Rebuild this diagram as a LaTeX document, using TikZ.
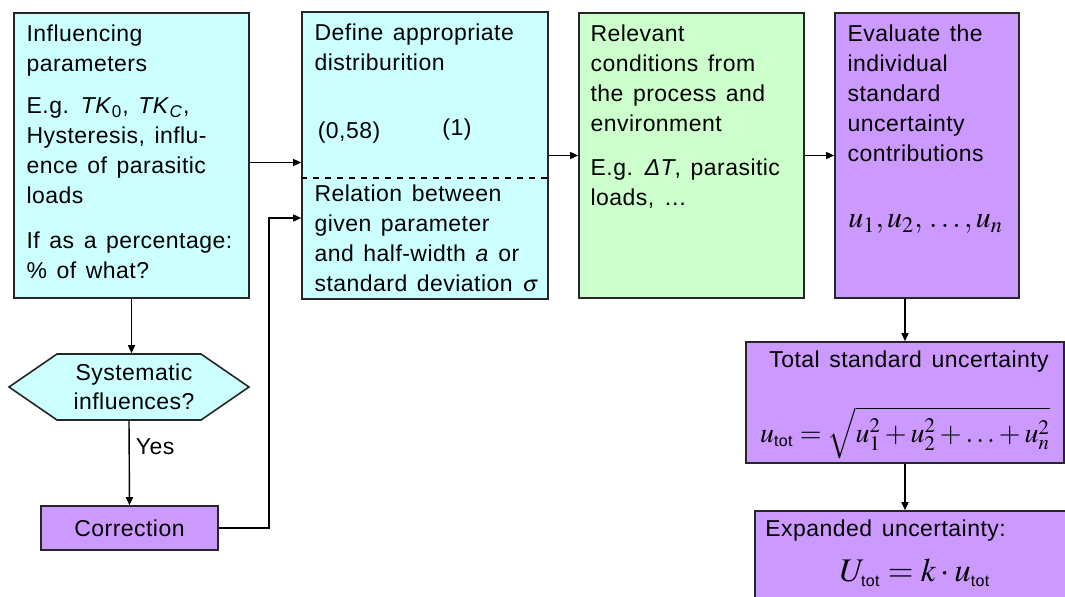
\documentclass[tikz,border=0pt]{standalone}
\usepackage{amsmath}
\usepackage{mathptmx}
\usepackage[no-math]{fontspec}
\setmainfont[LetterSpace=2, WordSpace=1.4]{Liberation Sans}
\usetikzlibrary{arrows.meta, positioning, shapes.symbols}

\definecolor{cyanfill}{RGB}{204,255,255}
\definecolor{greenfill}{RGB}{204,255,204}
\definecolor{violetfill}{RGB}{204,153,255}

\newcommand{\sub}[1]{\mbox{\fontsize{8}{8}\selectfont #1}}

\tikzset{
  box/.style={draw=black!85, line width=0.8pt, inner sep=0pt},
  txt/.style={inner sep=0pt, align=left, font=\fontsize{11.5}{15}\selectfont},
  arr/.style={-{Triangle[length=4pt,width=3.5pt]}, line width=0.7pt},
}

\begin{document}
\begin{tikzpicture}[x=0.5pt,y=-0.5pt]
\useasboundingbox (0,0) rectangle (1065,596);
\clip (0,0) rectangle (1065,596);

% boxes
\node[box, fill=cyanfill, minimum width=117.5pt, minimum height=142.5pt] (infl) at (131.5,155.5) {};
\node[box, fill=cyanfill, minimum width=123pt, minimum height=143.5pt] (distr) at (425,155.5) {};
\node[box, fill=greenfill, minimum width=112.5pt, minimum height=142.5pt] (cond) at (691.5,155.5) {};
\node[box, fill=violetfill, minimum width=92pt, minimum height=142.5pt] (eval) at (927,155.5) {};
\node[box, fill=violetfill, minimum width=159pt, minimum height=60.5pt] (total) at (905,402.5) {};
\node[box, fill=violetfill, minimum width=160pt, minimum height=54.5pt] (expd) at (915,565.5) {};
\node[box, fill=cyanfill, shape=signal, signal to=east and west, signal pointer angle=69,
      minimum width=120pt, minimum height=33pt, align=center, font=\fontsize{11.5}{14.5}\selectfont] (syst) at (129,387) {\hspace*{5pt}Systematic\\\hspace*{5pt}influences?};
\node[box, fill=violetfill, minimum width=88.5pt, minimum height=22pt, font=\fontsize{11.5}{15}\selectfont] (corr) at (129.5,528) {Correction};

% texts
\node[txt, below right=6pt and 6.5pt of infl.north west] (infltxt) {Influencing\\parameters\\[6pt]
  E.g. \textit{TK}\textsubscript{0}, \textit{TK}\textsubscript{\textit{C}},\\Hysteresis, influ-\\ence of parasitic\\loads\\[7.5pt]
  If as a percentage:\\\% of what?};
\node[txt, below right=6pt and 6.5pt of distr.north west] (distrtxt) {Define appropriate\\distriburition};
\node[txt] (rect) at (349,133) {(0,58)};
\node[txt] (norm) at (457,130) {(1)};
\draw[dashed, line width=0.7pt] ([yshift=-11.25pt]distr.west) -- ([yshift=-11.25pt]distr.east);
\node[txt, below right=86.5pt and 6.5pt of distr.north west] (reltxt) {Relation between\\given parameter\\and half-width \textit{a} or\\standard deviation $\sigma$};
\node[txt, below right=6pt and 6pt of cond.north west] (condtxt) {Relevant\\conditions from\\the process and\\environment\\[7pt]
  E.g. \textit{ΔT}, parasitic\\loads, …};
\node[txt, below right=6pt and 6.5pt of eval.north west] (evaltxt) {Evaluate the\\individual\\standard\\uncertainty\\contributions};
\node[txt, anchor=west, font=\fontsize{15}{15}\selectfont] (ulist) at (848,224) {$u_1, u_2,\, \ldots, u_n$};
\node[txt] (totaltxt) at (909,362) {Total standard uncertainty};
\node[txt, font=\fontsize{14}{14}\selectfont] (totalfml) at (905,433) {$u_{\sub{tot}} = \sqrt{u_1^2+u_2^2+\ldots+u_n^2}$};
\node[txt, anchor=west] (expdtxt) at (765,531) {Expanded uncertainty:};
\node[txt, font=\fontsize{16.5}{16.5}\selectfont] (expdfml) at (915,573) {$U_{\sub{tot}} = k\cdot u_{\sub{tot}}$};

% connectors
\draw[arr] ([yshift=-3.5pt]infl.east) -- ([yshift=-3.5pt]distr.west);
\draw[arr] (corr.east) -- ++(50,0) |- ([yshift=-31.25pt]distr.west);
\draw[arr] (infl.south) -- (infl.south |- syst.north);
\draw[arr] (syst.south) -- (corr.north) node[pos=0.31, right, inner sep=3pt, font=\fontsize{11.5}{15}\selectfont] {Yes};
\draw[arr] (distr.east) -- (cond.west);
\draw[arr] (cond.east) -- (eval.west);
\draw[arr] (total.north |- eval.south) -- (total.north);
\draw[arr] (total.south) -- (total.south |- expd.north);
\end{tikzpicture}
\end{document}
